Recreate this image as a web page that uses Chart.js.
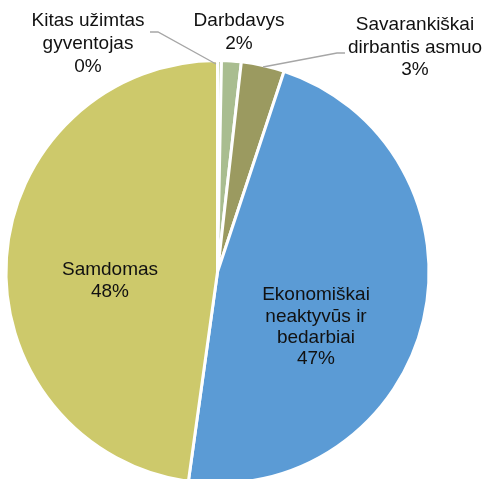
<!DOCTYPE html>
<html>
<head>
<meta charset="utf-8">
<script src="https://cdn.jsdelivr.net/npm/chart.js@4/dist/chart.umd.min.js"></script>
<style>
  html, body { margin: 0; padding: 0; background: #fff; overflow: hidden; }
  #wrap { width: 486px; height: 479px; position: relative; overflow: hidden; }
</style>
</head>
<body>
<div id="wrap"><canvas id="pieChart" width="486" height="500"></canvas></div>
<script>
// data (shares, %)
const categories = ['Kitas užimtas gyventojas', 'Darbdavys', 'Savarankiškai dirbantis asmuo', 'Ekonomiškai neaktyvūs ir bedarbiai', 'Samdomas'];
const shares = [0.3, 1.5, 3.3, 47.1, 47.8];
const shownPct = ['0%', '2%', '3%', '47%', '48%'];
const colors = ['#c3d0a6', '#a9bd90', '#9b9a60', '#5b9bd5', '#cdc96b'];

// label text lines + where they sit
const labelLines = [
  ['Kitas užimtas', 'gyventojas'],
  ['Darbdavys'],
  ['Savarankiškai', 'dirbantis asmuo'],
  ['Ekonomiškai', 'neaktyvūs ir', 'bedarbiai'],
  ['Samdomas']
];
const labelPos = [
  { x: 88, y: 21, lh: 23 },
  { x: 239, y: 21, lh: 23 },
  { x: 415, y: 25, lh: 22.5 },
  { x: 316, y: 295, lh: 21.3 },
  { x: 110, y: 270, lh: 22 }
];
const leaders = [
  [[150, 32], [158, 32], [216, 64]],
  null,
  [[263, 67], [337, 53], [345, 53]],
  null,
  null
];

const labelPlugin = {
  id: 'pieLabels',
  afterDatasetsDraw(chart) {
    const ctx = chart.ctx;
    ctx.save();
    ctx.strokeStyle = '#a6a6a6';
    ctx.lineWidth = 1.3;
    leaders.forEach(l => {
      if (!l) return;
      ctx.beginPath();
      ctx.moveTo(l[0][0], l[0][1]);
      for (let i = 1; i < l.length; i++) ctx.lineTo(l[i][0], l[i][1]);
      ctx.stroke();
    });
    ctx.fillStyle = '#111';
    ctx.font = '19px "Liberation Sans", Arial, sans-serif';
    ctx.textAlign = 'center';
    ctx.textBaseline = 'middle';
    labelLines.forEach((lines, i) => {
      const p = labelPos[i];
      const all = lines.concat([shownPct[i]]);
      all.forEach((t, k) => ctx.fillText(t, p.x, p.y + k * p.lh));
    });
    ctx.restore();
  }
};

new Chart(document.getElementById('pieChart').getContext('2d'), {
  type: 'pie',
  data: {
    labels: categories,
    datasets: [{
      data: shares,
      backgroundColor: colors,
      borderColor: '#ffffff',
      borderWidth: 3
    }]
  },
  options: {
    responsive: false,
    animation: false,
    layout: { padding: { top: 59, bottom: 15, left: 4.5, right: 55.5 } },
    plugins: {
      legend: { display: false },
      tooltip: { enabled: false }
    }
  },
  plugins: [labelPlugin]
});
</script>
</body>
</html>
